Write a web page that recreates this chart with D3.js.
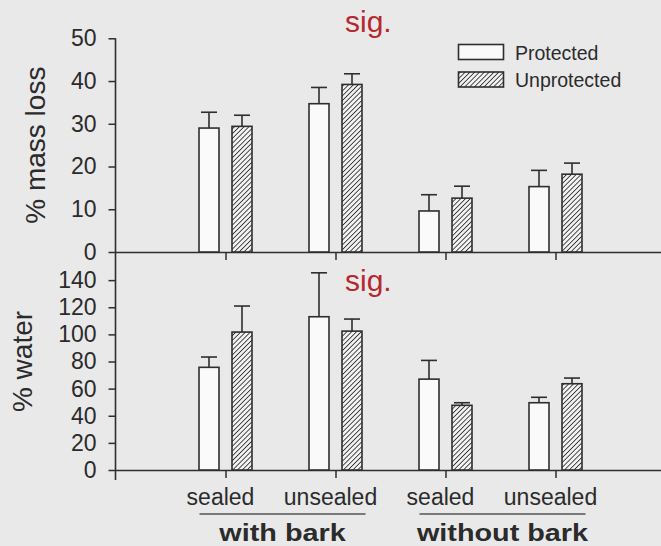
<!DOCTYPE html>
<html>
<head>
<meta charset="utf-8">
<script src="https://cdn.jsdelivr.net/npm/d3@7"></script>
<style>
  html, body { margin: 0; padding: 0; background: #e9e9e9; }
  svg { display: block; }
  text { font-family: "Liberation Sans", Arial, Helvetica, sans-serif; fill: #2b2b2b; }
</style>
</head>
<body>
<svg id="chart" width="661" height="546"></svg>
<script>
// Treatment categories along the x axis, and the bark grouping under them
const categories = ["sealed", "unsealed", "sealed", "unsealed"];
const groups = ["with bark", "without bark"];
const seriesNames = ["Protected", "Unprotected"];

// % mass loss (mean and upper standard error)
const massProtected = [29.0, 34.7, 9.6, 15.3];
const massProtectedErr = [3.7, 3.8, 3.8, 3.8];
const massUnprotected = [29.4, 39.2, 12.6, 18.2];
const massUnprotectedErr = [2.6, 2.5, 2.8, 2.6];

// % water (mean and upper standard error)
const waterProtected = [75.7, 113.0, 67.0, 49.6];
const waterProtectedErr = [7.6, 32.4, 13.8, 4.0];
const waterUnprotected = [101.7, 102.4, 47.7, 63.6];
const waterUnprotectedErr = [19.2, 8.9, 1.9, 4.2];

// Axis ticks
const massTicks = [0, 10, 20, 30, 40, 50];
const waterTicks = [0, 20, 40, 60, 80, 100, 120, 140];

const svg = d3.select("#chart");
const ink = "#2e2e2e";

// Hatching for the unprotected bars
const defs = svg.append("defs");
const pat = defs.append("pattern")
  .attr("id", "hatch")
  .attr("patternUnits", "userSpaceOnUse")
  .attr("width", 3.4).attr("height", 3.4)
  .attr("patternTransform", "rotate(45)");
pat.append("rect").attr("width", 3.4).attr("height", 3.4).attr("fill", "#f2f2f2");
pat.append("line").attr("x1", 0).attr("y1", 0).attr("x2", 0).attr("y2", 3.4)
  .attr("stroke", "#2f2f2f").attr("stroke-width", 1.7);

const fills = { Protected: "#fafafa", Unprotected: "url(#hatch)" };

// Scales: positions 1..4 hold the four treatments
const x = d3.scaleLinear().domain([0, 5]).range([115.5, 665.5]);
const xSub = d3.scaleBand().domain(seriesNames).range([-26.5, 26.5]).paddingInner(13 / 33).paddingOuter(0);
const yMass = d3.scaleLinear().domain([0, 50]).range([252, 38.3]);
const yWater = d3.scaleLinear().domain([0, 160]).range([470, 253]);

function panel(y, ticks, prot, protErr, unprot, unprotErr) {
  const g = svg.append("g");
  // y axis (ticks and labels only; the spine is drawn once for both panels)
  const ya = g.append("g")
    .attr("transform", `translate(${x(0)},0)`)
    .call(d3.axisLeft(y).tickValues(ticks).tickSize(7).tickPadding(12));
  ya.select(".domain").remove();
  ya.selectAll("line").attr("stroke", ink).attr("stroke-width", 1.5);
  ya.selectAll("text").attr("font-size", 23).attr("fill", "#2b2b2b")
    .attr("font-family", "Liberation Sans, Arial, sans-serif");

  // x axis baseline with treatment ticks
  const xa = g.append("g")
    .attr("transform", `translate(0,${y(0)})`)
    .call(d3.axisBottom(x).tickValues([1, 2, 3, 4]).tickSize(8).tickSizeOuter(0).tickFormat(""));
  xa.select(".domain").attr("stroke", ink).attr("stroke-width", 1.5);
  xa.selectAll(".tick line").attr("stroke", ink).attr("stroke-width", 1.5);

  const rows = categories.map((c, i) => ([
    { s: "Protected", i, v: prot[i], e: protErr[i] },
    { s: "Unprotected", i, v: unprot[i], e: unprotErr[i] }
  ])).flat();

  // error bars (upper only)
  const eb = g.selectAll("g.err").data(rows).join("g").attr("class", "err")
    .attr("stroke", ink).attr("stroke-width", 1.6);
  eb.append("line")
    .attr("x1", d => x(d.i + 1) + xSub(d.s) + xSub.bandwidth() / 2)
    .attr("x2", d => x(d.i + 1) + xSub(d.s) + xSub.bandwidth() / 2)
    .attr("y1", d => y(d.v)).attr("y2", d => y(d.v + d.e));
  eb.append("line")
    .attr("x1", d => x(d.i + 1) + xSub(d.s) + xSub.bandwidth() / 2 - 8)
    .attr("x2", d => x(d.i + 1) + xSub(d.s) + xSub.bandwidth() / 2 + 8)
    .attr("y1", d => y(d.v + d.e)).attr("y2", d => y(d.v + d.e));

  // bars
  g.selectAll("rect.bar").data(rows).join("rect").attr("class", "bar")
    .attr("x", d => x(d.i + 1) + xSub(d.s))
    .attr("width", xSub.bandwidth())
    .attr("y", d => y(d.v))
    .attr("height", d => y(0) - y(d.v))
    .attr("fill", d => fills[d.s])
    .attr("stroke", ink).attr("stroke-width", 1.6);
  return g;
}

panel(yMass, massTicks, massProtected, massProtectedErr, massUnprotected, massUnprotectedErr);
panel(yWater, waterTicks, waterProtected, waterProtectedErr, waterUnprotected, waterUnprotectedErr);

// shared y spine
svg.append("line")
  .attr("x1", x(0)).attr("x2", x(0))
  .attr("y1", yMass(50)).attr("y2", yWater(0) + 10)
  .attr("stroke", ink).attr("stroke-width", 1.6);

// treatment labels under the lower panel
svg.selectAll("text.cat").data(categories).join("text").attr("class", "cat")
  .attr("x", (d, i) => x(i + 1) - 5)
  .attr("y", yWater(0) + 35)
  .attr("text-anchor", "middle")
  .attr("font-size", 23)
  .text(d => d);

// bark groups: rule and bold label
groups.forEach((name, k) => {
  const mid = (x(2 * k + 1) + x(2 * k + 2)) / 2 + 2;
  svg.append("line")
    .attr("x1", mid - 83).attr("x2", mid + 83)
    .attr("y1", yWater(0) + 44).attr("y2", yWater(0) + 44)
    .attr("stroke", "#555").attr("stroke-width", 1.5);
  svg.append("text")
    .attr("transform", `translate(${mid},${yWater(0) + 71}) scale(1.2,1)`)
    .attr("text-anchor", "middle")
    .attr("font-size", 24)
    .attr("font-weight", "bold")
    .attr("fill", "#1e1e1e")
    .text(name);
});

// axis titles
svg.append("text")
  .attr("transform", `translate(45,${(yMass(0) + yMass(50)) / 2}) rotate(-90)`)
  .attr("text-anchor", "middle").attr("font-size", 28)
  .text("% mass loss");
svg.append("text")
  .attr("transform", `translate(31.5,${(yWater(0) + yWater(160)) / 2}) rotate(-90)`)
  .attr("text-anchor", "middle").attr("font-size", 28)
  .text("% water");

// legend
const leg = svg.append("g").attr("transform", "translate(458.5,44.5)");
seriesNames.forEach((s, i) => {
  leg.append("rect")
    .attr("x", 0).attr("y", i * 27.5)
    .attr("width", 45).attr("height", 15)
    .attr("fill", fills[s]).attr("stroke", ink).attr("stroke-width", 1.6);
  leg.append("text")
    .attr("x", 56.5).attr("y", i * 27.5 + 15)
    .attr("font-size", 19.5)
    .text(s);
});

// significance marks
[yMass, yWater].forEach((y, k) => {
  svg.append("text")
    .attr("x", 345)
    .attr("y", k === 0 ? 31.5 : 291)
    .attr("font-family", "Open Sans, Noto Sans, sans-serif")
    .attr("font-size", 30)
    .style("fill", "#b5282f")
    .text("sig.");
});
</script>
</body>
</html>
